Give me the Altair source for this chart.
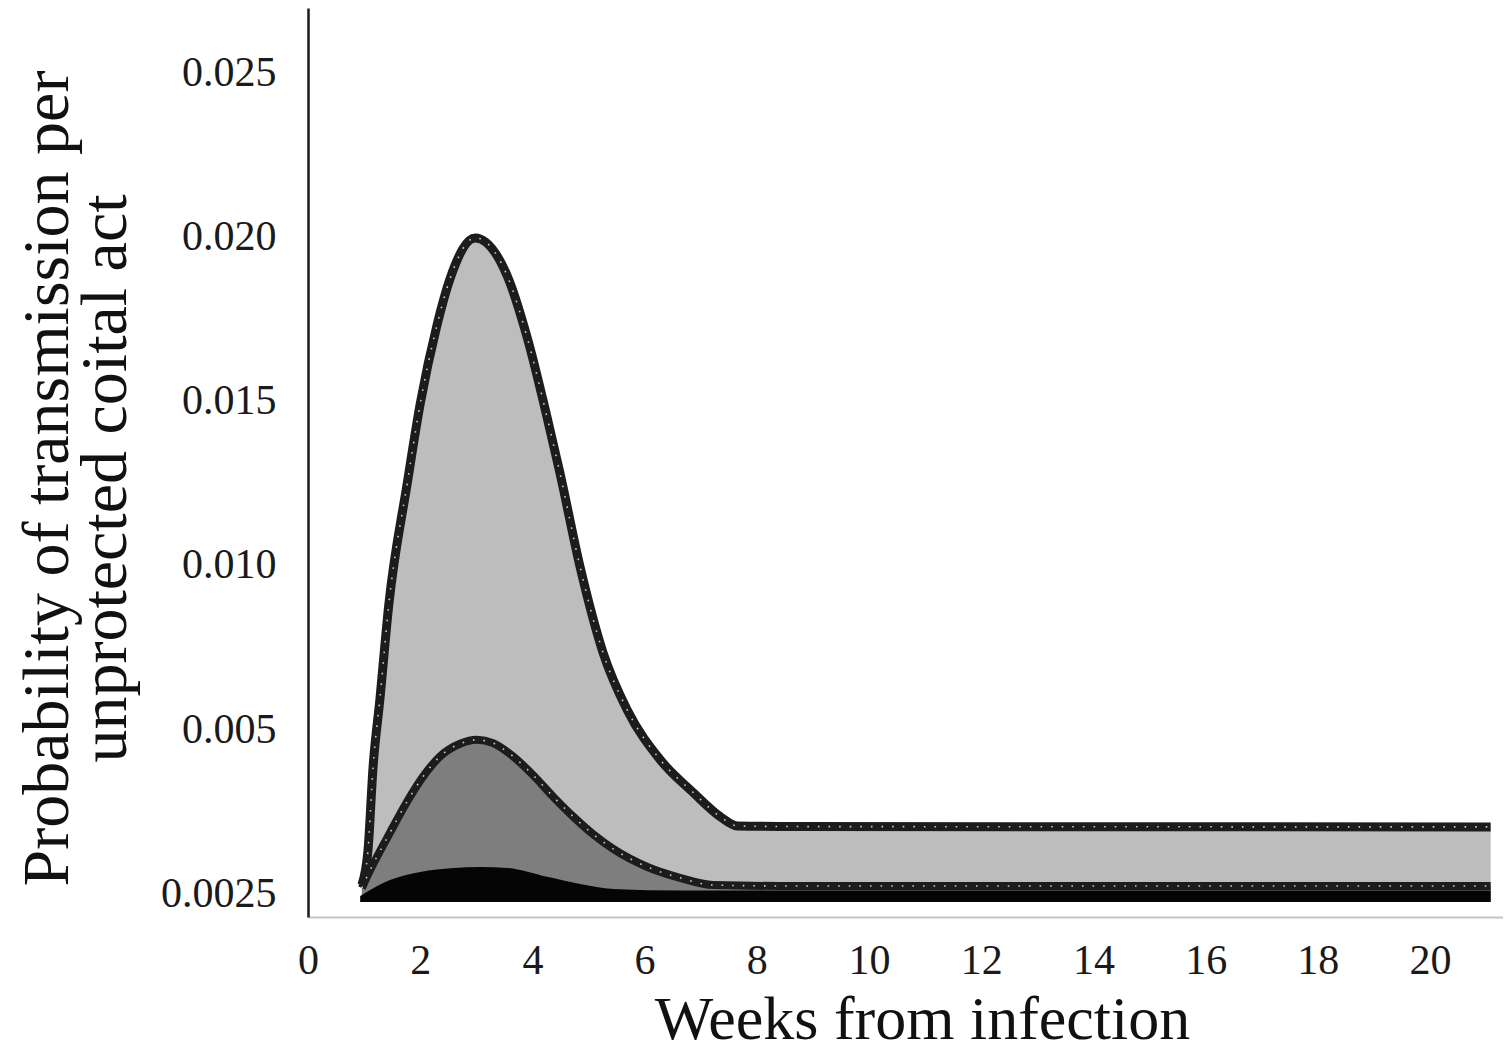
import altair as alt
import pandas as pd

# ---- data (weeks from infection, probability) ----
weeks_light = [0.96, 1.07, 1.16, 1.28, 1.44, 1.77, 2.00, 2.30, 2.53, 2.98, 3.55, 3.91,
               4.26, 4.49, 4.85, 5.26, 5.69, 6.28, 6.87, 7.35, 7.65, 8.70, 21.08]
prob_light = [0.00025, 0.00132, 0.00385, 0.00588, 0.00878, 0.01249, 0.01490, 0.01730,
              0.01870, 0.01995, 0.01880, 0.01690, 0.01450, 0.01280, 0.00993, 0.00732,
              0.00558, 0.00406, 0.00306, 0.00233, 0.00205, 0.00203, 0.00202]

weeks_mid = [0.96, 1.05, 1.46, 1.77, 2.05, 2.35, 2.71, 3.01, 3.30, 3.66, 4.01, 4.37,
             4.73, 5.08, 5.44, 6.05, 6.63, 7.22, 8.70, 21.08]
prob_mid = [0.00016, 0.00050, 0.00184, 0.00280, 0.00355, 0.00416, 0.00455, 0.00467,
            0.00457, 0.00416, 0.00360, 0.00294, 0.00233, 0.00180, 0.00135, 0.00080,
            0.00047, 0.00025, 0.00022, 0.00022]

weeks_dark = [0.93, 1.46, 2.00, 2.59, 3.07, 3.55, 4.26, 4.85, 5.44, 6.63, 21.08]
prob_dark = [-0.00008, 0.00040, 0.00065, 0.00077, 0.00080, 0.00077, 0.00050, 0.00028,
             0.00013, 0.00008, 0.00008]

BASELINE = -0.00027

x_ticks = [0, 2, 4, 6, 8, 10, 12, 14, 16, 18, 20]
y_ticks = [0, 0.005, 0.010, 0.015, 0.020, 0.025]
y_tick_labels = ["0.0025", "0.005", "0.010", "0.015", "0.020", "0.025"]

FONT = "Liberation Serif"


def frame(weeks, probs):
    return pd.DataFrame({"week": weeks, "prob": probs, "base": [BASELINE] * len(weeks)})


df_light = frame(weeks_light, prob_light)
df_mid = frame(weeks_mid, prob_mid)
df_dark = frame(weeks_dark, prob_dark)

label_expr = " : ".join(
    f"datum.value == {v} ? '{l}'" for v, l in zip(y_ticks, y_tick_labels)
) + " : ''"

x_enc = alt.X(
    "week:Q",
    scale=alt.Scale(domain=[0, 21.3], nice=False, zero=False),
    axis=alt.Axis(
        values=x_ticks,
        format="d",
        title="Weeks from infection",
        titleFont=FONT,
        titleFontSize=62,
        titleFontWeight="normal",
        titleColor="#111111",
        titleX=614,
        titleY=121,
        titleAlign="center",
        titleBaseline="alphabetic",
        labelFont=FONT,
        labelFontSize=42,
        labelColor="#1a1a1a",
        labelPadding=23,
        labelFlush=False,
        tickSize=0,
        grid=False,
        domainColor="#c4c4c4",
        domainWidth=2,
    ),
)

y_enc = alt.Y(
    "prob:Q",
    scale=alt.Scale(domain=[-0.000723, 0.02695], nice=False, zero=False),
    axis=alt.Axis(
        values=y_ticks,
        labelExpr=label_expr,
        title=["Probability of transmission per", "unprotected coital act"],
        titleFont=FONT,
        titleFontSize=66,
        titleFontWeight="normal",
        titleColor="#111111",
        titleAngle=270,
        titleAlign="center",
        titleBaseline="middle",
        titleLineHeight=58,
        titleX=-261,
        titleY=470,
        labelFont=FONT,
        labelFontSize=42,
        labelColor="#1a1a1a",
        labelPadding=32,
        labelFlush=False,
        tickSize=0,
        grid=False,
        domainColor="#1a1a1a",
        domainWidth=2.5,
    ),
)


def area(df, fill):
    return alt.Chart(df).mark_area(
        color=fill, interpolate="monotone", opacity=1
    ).encode(x=x_enc, y=y_enc, y2="base:Q")


def outline(df, width):
    dark = alt.Chart(df).mark_line(
        color="#1c1c1c", strokeWidth=width, interpolate="monotone",
        strokeJoin="round", strokeCap="butt"
    ).encode(x=x_enc, y=y_enc)
    dots = alt.Chart(df).mark_line(
        color="#e6e6e6", strokeWidth=1.6, strokeDash=[1.6, 9],
        interpolate="monotone", opacity=0.85
    ).encode(x=x_enc, y=y_enc)
    return dark + dots


chart = alt.layer(
    area(df_light, "#bdbdbd"),
    outline(df_light, 9),
    area(df_mid, "#7e7e7e"),
    outline(df_mid, 8),
    area(df_dark, "#050505"),
).properties(
    width=1195,
    height=909,
    autosize=alt.AutoSizeParams(type="none"),
    padding={"left": 300, "top": 0, "right": 0, "bottom": 135},
    background="white",
).configure_view(strokeWidth=0)

chart.save("out.html", embed_options={"renderer": "svg", "actions": False})
